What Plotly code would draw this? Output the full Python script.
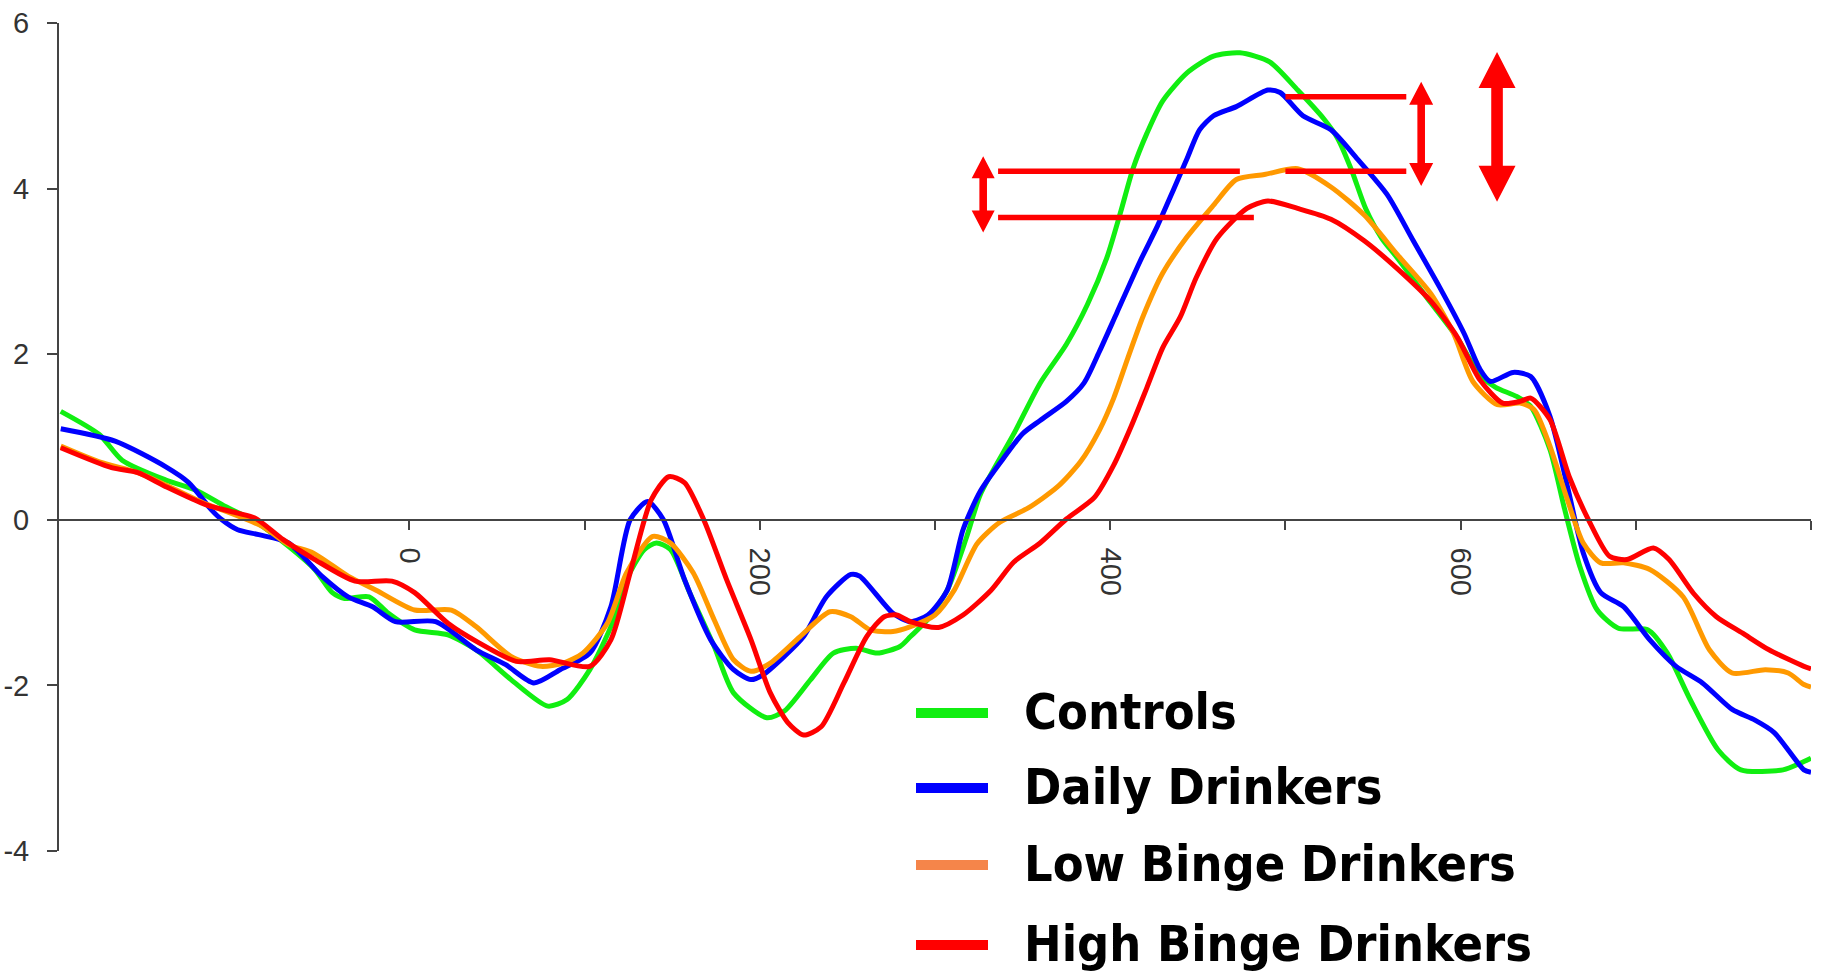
import plotly.graph_objects as go

# ---------------- data ----------------
controls_x = [-199, -177, -164, -139, -122, -105, -88, -69, -54, -44, -37, -23, -12, 3, 22, 38, 58, 79, 90, 103,
              115, 124, 134, 141, 149, 160, 174, 185, 204, 214, 229, 242, 255, 267, 280, 286, 296, 307, 318, 326,
              345, 360, 375, 387, 398, 406, 413, 421, 430, 444, 459, 474, 491, 507, 522, 530, 538, 546, 555, 564,
              583, 598, 611, 620, 632, 640, 651, 659, 668, 678, 690, 707, 718, 731, 747, 760, 784, 796, 800]
controls_y = [1.31, 1.03, 0.72, 0.48, 0.36, 0.16, -0.02, -0.32, -0.60, -0.88, -0.95, -0.93, -1.13, -1.33, -1.39,
              -1.57, -1.93, -2.25, -2.17, -1.81, -1.29, -0.72, -0.36, -0.28, -0.36, -0.88, -1.53, -2.09, -2.39,
              -2.31, -1.93, -1.61, -1.55, -1.61, -1.53, -1.41, -1.20, -0.85, -0.21, 0.31, 1.04, 1.65, 2.12, 2.60,
              3.16, 3.72, 4.24, 4.67, 5.06, 5.40, 5.60, 5.64, 5.53, 5.19, 4.84, 4.60, 4.21, 3.75, 3.40, 3.16,
              2.62, 2.20, 1.75, 1.60, 1.49, 1.37, 0.85, 0.16, -0.56, -1.09, -1.31, -1.33, -1.61, -2.17, -2.78,
              -3.02, -3.02, -2.92, -2.88]

daily_x = [-199, -168, -139, -126, -113, -107, -98, -86, -69, -50, -35, -21, -8, 15, 38, 55, 71, 86, 103, 115,
           126, 136, 145, 157, 172, 185, 195, 202, 214, 225, 238, 252, 257, 276, 286, 296, 307, 316, 326, 339,
           350, 360, 375, 385, 394, 404, 417, 427, 436, 444, 451, 459, 472, 490, 497, 510, 526, 541, 558, 573,
           588, 602, 611, 617, 630, 640, 651, 661, 670, 680, 693, 708, 723, 738, 755, 768, 779, 796, 800]
daily_y = [1.10, 0.95, 0.64, 0.45, 0.12, 0.0, -0.12, -0.18, -0.28, -0.68, -0.93, -1.05, -1.23, -1.23, -1.57,
           -1.75, -1.97, -1.81, -1.61, -1.05, 0.0, 0.22, 0.0, -0.72, -1.45, -1.81, -1.93, -1.87, -1.65, -1.41,
           -0.93, -0.66, -0.68, -1.13, -1.23, -1.15, -0.85, -0.12, 0.35, 0.74, 1.04, 1.20, 1.43, 1.65, 2.04,
           2.51, 3.12, 3.55, 3.98, 4.37, 4.71, 4.88, 4.99, 5.19, 5.16, 4.88, 4.71, 4.36, 3.93, 3.37, 2.81, 2.25,
           1.82, 1.67, 1.78, 1.73, 1.25, 0.40, -0.40, -0.88, -1.05, -1.45, -1.77, -1.97, -2.29, -2.42, -2.57,
           -3.02, -3.05]

lowbinge_x = [-199, -177, -155, -139, -116, -107, -84, -69, -55, -35, -19, 3, 24, 38, 58, 75, 88, 99, 113, 124,
              139, 149, 162, 174, 185, 195, 206, 223, 240, 252, 263, 276, 286, 300, 311, 324, 337, 353, 370, 383,
              394, 402, 410, 419, 430, 444, 459, 472, 488, 507, 526, 545, 564, 583, 596, 607, 621, 634, 642, 651,
              661, 670, 680, 693, 708, 727, 742, 755, 774, 787, 796, 800]
lowbinge_y = [0.89, 0.70, 0.57, 0.42, 0.19, 0.12, -0.08, -0.30, -0.40, -0.68, -0.85, -1.09, -1.09, -1.29, -1.65,
              -1.77, -1.73, -1.61, -1.25, -0.64, -0.20, -0.28, -0.64, -1.21, -1.69, -1.83, -1.73, -1.41, -1.11,
              -1.17, -1.33, -1.35, -1.29, -1.15, -0.85, -0.29, -0.03, 0.14, 0.40, 0.70, 1.09, 1.47, 1.95, 2.47,
              2.98, 3.42, 3.80, 4.11, 4.17, 4.24, 4.02, 3.68, 3.20, 2.73, 2.25, 1.67, 1.39, 1.41, 1.33, 0.89,
              0.24, -0.28, -0.52, -0.52, -0.60, -0.93, -1.57, -1.85, -1.81, -1.85, -1.99, -2.02]

highbinge_x = [-199, -170, -155, -139, -116, -98, -88, -72, -54, -31, -10, 3, 22, 40, 61, 80, 103, 115, 126, 138,
               148, 157, 168, 181, 195, 206, 216, 225, 235, 248, 261, 271, 278, 286, 302, 316, 332, 345, 360, 375,
               391, 402, 412, 421, 430, 440, 449, 461, 478, 490, 507, 526, 545, 564, 583, 598, 611, 624, 634, 640,
               651, 662, 673, 685, 695, 710, 719, 733, 746, 761, 776, 796, 800]
highbinge_y = [0.87, 0.63, 0.57, 0.40, 0.18, 0.08, 0.02, -0.24, -0.48, -0.74, -0.74, -0.88, -1.25, -1.49, -1.71,
               -1.69, -1.77, -1.45, -0.64, 0.24, 0.52, 0.45, 0.0, -0.72, -1.45, -2.09, -2.45, -2.60, -2.50, -1.97,
               -1.41, -1.17, -1.15, -1.23, -1.30, -1.15, -0.85, -0.51, -0.28, 0.01, 0.27, 0.66, 1.13, 1.60, 2.08,
               2.45, 2.92, 3.40, 3.76, 3.85, 3.76, 3.63, 3.37, 3.03, 2.64, 2.21, 1.69, 1.41, 1.43, 1.47, 1.21,
               0.52, 0.0, -0.44, -0.48, -0.34, -0.48, -0.89, -1.17, -1.37, -1.57, -1.77, -1.80]

series_names = ["Controls", "Daily Drinkers", "Low Binge Drinkers", "High Binge Drinkers"]
line_colors = ["#11ee11", "#0000ff", "#ff9900", "#ff0000"]
legend_colors = ["#11ee11", "#0000ff", "#f5854a", "#ff0000"]

x_tickvals = [0, 100, 200, 300, 400, 500, 600, 700, 800]
x_ticktext = ["0", "", "200", "", "400", "", "600", "", ""]
y_tickvals = [-4, -2, 0, 2, 4, 6]
y_ticktext = ["-4", "-2", "0", "2", "4", "6"]

# comparison marks (data coordinates)
hlines = [  # (x0, x1, y)
    (500, 569, 5.11),
    (336, 474, 4.21),
    (500, 569, 4.21),
    (336, 482, 3.65),
]
arrows = [  # (x, y_top, y_bottom, head half-width px, head height px, shaft half-width px)
    (327.5, 4.39, 3.47, 11.5, 22, 3.8),
    (577.5, 5.29, 4.03, 12, 23, 3.8),
    (620.8, 5.65, 3.84, 18.5, 36, 5.8),
]

# ---------------- figure ----------------
W, H = 1823, 975
ML, MR, MT, MB = 59, 12, 23, 124
X_RANGE = [-200, 800]
Y_RANGE = [-4, 6]
pw, ph = W - ML - MR, H - MT - MB
px_per_x = pw / (X_RANGE[1] - X_RANGE[0])
px_per_y = ph / (Y_RANGE[1] - Y_RANGE[0])

fig = go.Figure()
for xs, ys, name, col in zip([controls_x, daily_x, lowbinge_x, highbinge_x],
                             [controls_y, daily_y, lowbinge_y, highbinge_y],
                             series_names, line_colors):
    fig.add_trace(go.Scatter(x=xs, y=ys, mode="lines", name=name, showlegend=False,
                             line=dict(color=col, width=5, shape="spline", smoothing=0.7)))

shapes = []
for x0, x1, y in hlines:
    shapes.append(dict(type="line", xref="x", yref="y", x0=x0, x1=x1, y0=y, y1=y,
                       line=dict(color="#ff0000", width=5.5), layer="above"))


def arrow_path(cx, yt, yb, hh, hl, sh):
    dxh = hh / px_per_x
    dxs = sh / px_per_x
    dyh = hl / px_per_y
    pts = [(cx, yt), (cx + dxh, yt - dyh), (cx + dxs, yt - dyh), (cx + dxs, yb + dyh),
           (cx + dxh, yb + dyh), (cx, yb), (cx - dxh, yb + dyh), (cx - dxs, yb + dyh),
           (cx - dxs, yt - dyh), (cx - dxh, yt - dyh)]
    return "M " + " L ".join(f"{a:.3f},{b:.4f}" for a, b in pts) + " Z"


for a in arrows:
    shapes.append(dict(type="path", xref="x", yref="y", path=arrow_path(*a),
                       fillcolor="#ff0000", line=dict(color="#ff0000", width=0), layer="above"))


# custom legend (paper coordinates)
def pxx(p):
    return (p - ML) / pw


def pxy(p):
    return (H - MB - p) / ph


legend_rows_px = [713, 788, 865, 945]
annotations = []
for name, col, ry in zip(series_names, legend_colors, legend_rows_px):
    shapes.append(dict(type="line", xref="paper", yref="paper", x0=pxx(916), x1=pxx(988),
                       y0=pxy(ry), y1=pxy(ry), line=dict(color=col, width=10)))
    annotations.append(dict(xref="paper", yref="paper", x=pxx(1022), y=pxy(ry - 1),
                            xanchor="left", yanchor="middle", showarrow=False, text=name,
                            font=dict(family="DejaVu Sans Condensed, DejaVu Sans", size=50,
                                      color="#000000", weight="bold")))

tickfont = dict(family="Liberation Sans Narrow, Arial Narrow, sans-serif", size=29, color="#333333")
zero_pos = (0 - Y_RANGE[0]) / (Y_RANGE[1] - Y_RANGE[0])

fig.update_layout(
    width=W, height=H,
    margin=dict(l=ML, r=MR, t=MT, b=MB, pad=0, autoexpand=False),
    paper_bgcolor="white", plot_bgcolor="white",
    showlegend=False,
    shapes=shapes, annotations=annotations,
    xaxis=dict(range=X_RANGE, anchor="free", position=zero_pos, showline=True, automargin=False,
               linecolor="#444444", linewidth=2, showgrid=False, zeroline=False,
               tickvals=x_tickvals, ticktext=x_ticktext, ticks="outside", ticklen=9,
               tickwidth=2, tickcolor="#444444", tickangle=90, tickfont=tickfont,
               ticklabelstandoff=12),
    xaxis2=dict(range=X_RANGE, overlaying="x", anchor="free", position=zero_pos, automargin=False,
                showline=False, showgrid=False, zeroline=False, tickvals=x_tickvals,
                ticks="inside", ticklen=9, tickwidth=2, tickcolor="#444444",
                showticklabels=False),
    yaxis=dict(range=Y_RANGE, showline=True, linecolor="#444444", linewidth=2, automargin=False,
               showgrid=False, zeroline=False, tickvals=y_tickvals, ticktext=y_ticktext,
               ticks="outside", ticklen=10, tickwidth=2, tickcolor="#444444", tickfont=tickfont,
               ticklabelstandoff=12),
)

fig.write_html("out.html")
